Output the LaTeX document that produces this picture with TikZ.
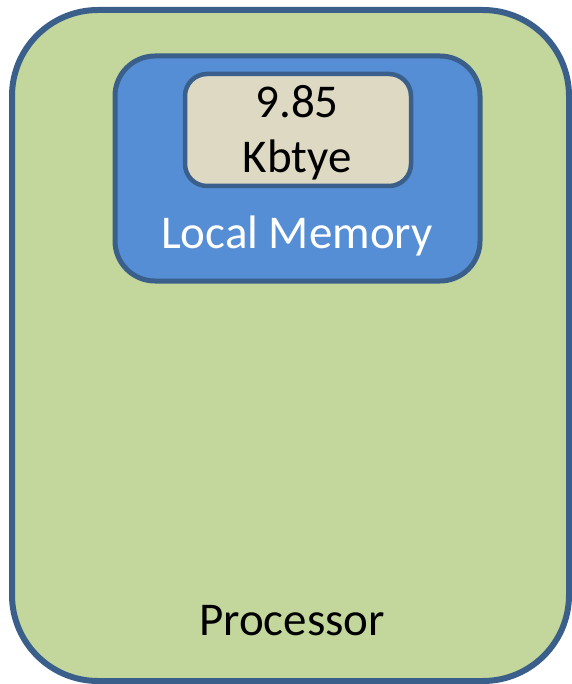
\documentclass[tikz,border=0pt]{standalone}
\usepackage{fontspec}
\setmainfont{Carlito}
\definecolor{procgreen}{HTML}{C3D69B}
\definecolor{memblue}{HTML}{558ED5}
\definecolor{cellbeige}{HTML}{DDD9C3}
\definecolor{edgeblue}{HTML}{3A5F8B}
\begin{document}
\begin{tikzpicture}[x=1pt,y=-1pt,
  box/.style={draw=edgeblue},
  label/.style={font=\fontsize{47}{56}\selectfont, inner sep=0pt, anchor=base}]
\useasboundingbox (0,0) rectangle (571,684);
% processor body
\draw[box, fill=procgreen, line width=6pt, rounded corners=86pt] (12,10) rectangle (569,681);
% local memory block
\draw[box, fill=memblue, line width=5pt, rounded corners=40pt] (115,56) rectangle (480,281);
% memory size cell
\draw[box, fill=cellbeige, line width=4.5pt, rounded corners=22pt] (185,74) rectangle (411,186);
\node[label] (size) at (297,118) {9.85};
\node[label] (unit) at (297,173) {Kbtye};
\node[label, text=white] (mem) at (297,248) {Local Memory};
\node[label] (proc) at (292,635) {Processor};
\end{tikzpicture}
\end{document}
